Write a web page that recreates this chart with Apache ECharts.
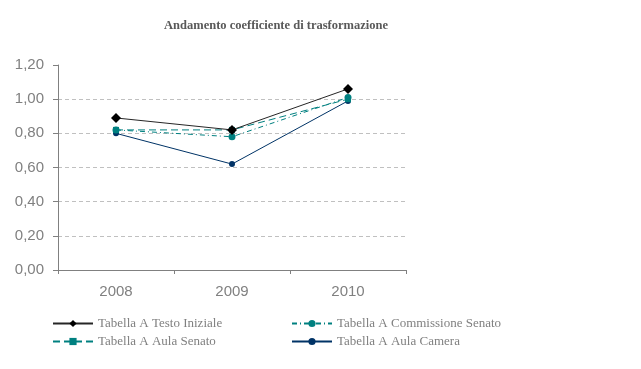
<!DOCTYPE html>
<html><head><meta charset="utf-8">
<script src="https://cdn.jsdelivr.net/npm/echarts@6/dist/echarts.min.js"></script>
<style>html,body{margin:0;padding:0;background:#fff}#c{width:641px;height:369px}</style>
</head><body><div id="c"></div>
<script>
var title = 'Andamento coefficiente di trasformazione';
var categories = ['2008', '2009', '2010'];
var seriesNames = ['Tabella A Testo Iniziale', 'Tabella A Commissione Senato', 'Tabella A Aula Senato', 'Tabella A Aula Camera'];
var testoIniziale = [0.89, 0.82, 1.06];
var commissioneSenato = [0.82, 0.78, 1.01];
var aulaSenato = [0.82, 0.82, 1.00];
var aulaCamera = [0.80, 0.62, 0.99];

var chart = echarts.init(document.getElementById('c'), null, {renderer: 'canvas'});
var legendText = {fontFamily: 'Liberation Serif', fontSize: 13, color: '#808080'};
chart.setOption({
  animation: false,
  backgroundColor: '#fff',
  title: {text: title, left: 271, top: 14, textAlign: 'center',
    textStyle: {fontFamily: 'Liberation Serif', fontSize: 12.5, fontWeight: 'bold', color: '#595959'}},
  grid: {left: 58, right: 235, top: 65, bottom: 99},
  legend: [
    {orient: 'vertical', left: 52, top: 317, padding: 0, itemWidth: 40, itemHeight: 9, itemGap: 5,
     data: [seriesNames[0], seriesNames[2]], textStyle: legendText},
    {orient: 'vertical', left: 291, top: 317, padding: 0, itemWidth: 40, itemHeight: 9, itemGap: 5,
     data: [seriesNames[1], seriesNames[3]], textStyle: legendText}
  ],
  xAxis: {type: 'category', data: categories, boundaryGap: true,
    axisLine: {lineStyle: {color: '#808080', width: 1}},
    axisTick: {show: true, length: 4, alignWithLabel: false, lineStyle: {color: '#808080'}},
    axisLabel: {fontFamily: 'Liberation Sans', fontSize: 15, color: '#808080', margin: 14},
    splitLine: {show: false}},
  yAxis: {type: 'value', min: 0, max: 1.2, interval: 0.2,
    axisLine: {show: true, lineStyle: {color: '#808080', width: 1}},
    axisTick: {show: true, length: 5, lineStyle: {color: '#808080'}},
    axisLabel: {fontFamily: 'Liberation Sans', fontSize: 15, color: '#808080', margin: 14,
      formatter: function (v) { return v.toFixed(2).replace('.', ','); }},
    splitLine: {show: true, showMaxLine: false, showMinLine: false,
      lineStyle: {color: '#c0c0c0', type: [4, 3], width: 1}}},
  series: [
    {name: seriesNames[0], type: 'line', data: testoIniziale, symbol: 'diamond', symbolSize: 10,
     lineStyle: {color: '#262626', width: 1}, itemStyle: {color: '#000'}, z: 5},
    {name: seriesNames[1], type: 'line', data: commissioneSenato, symbol: 'circle', symbolSize: 7,
     lineStyle: {color: '#008080', width: 1, type: [5, 3, 1, 3]}, itemStyle: {color: '#008080'}, z: 3},
    {name: seriesNames[2], type: 'line', data: aulaSenato, symbol: 'rect', symbolSize: 6,
     lineStyle: {color: '#008080', width: 1, type: [7, 4]}, itemStyle: {color: '#008080'}, z: 4},
    {name: seriesNames[3], type: 'line', data: aulaCamera, symbol: 'circle', symbolSize: 6,
     lineStyle: {color: '#003366', width: 1}, itemStyle: {color: '#003366'}, z: 2}
  ]
});
</script></body></html>
